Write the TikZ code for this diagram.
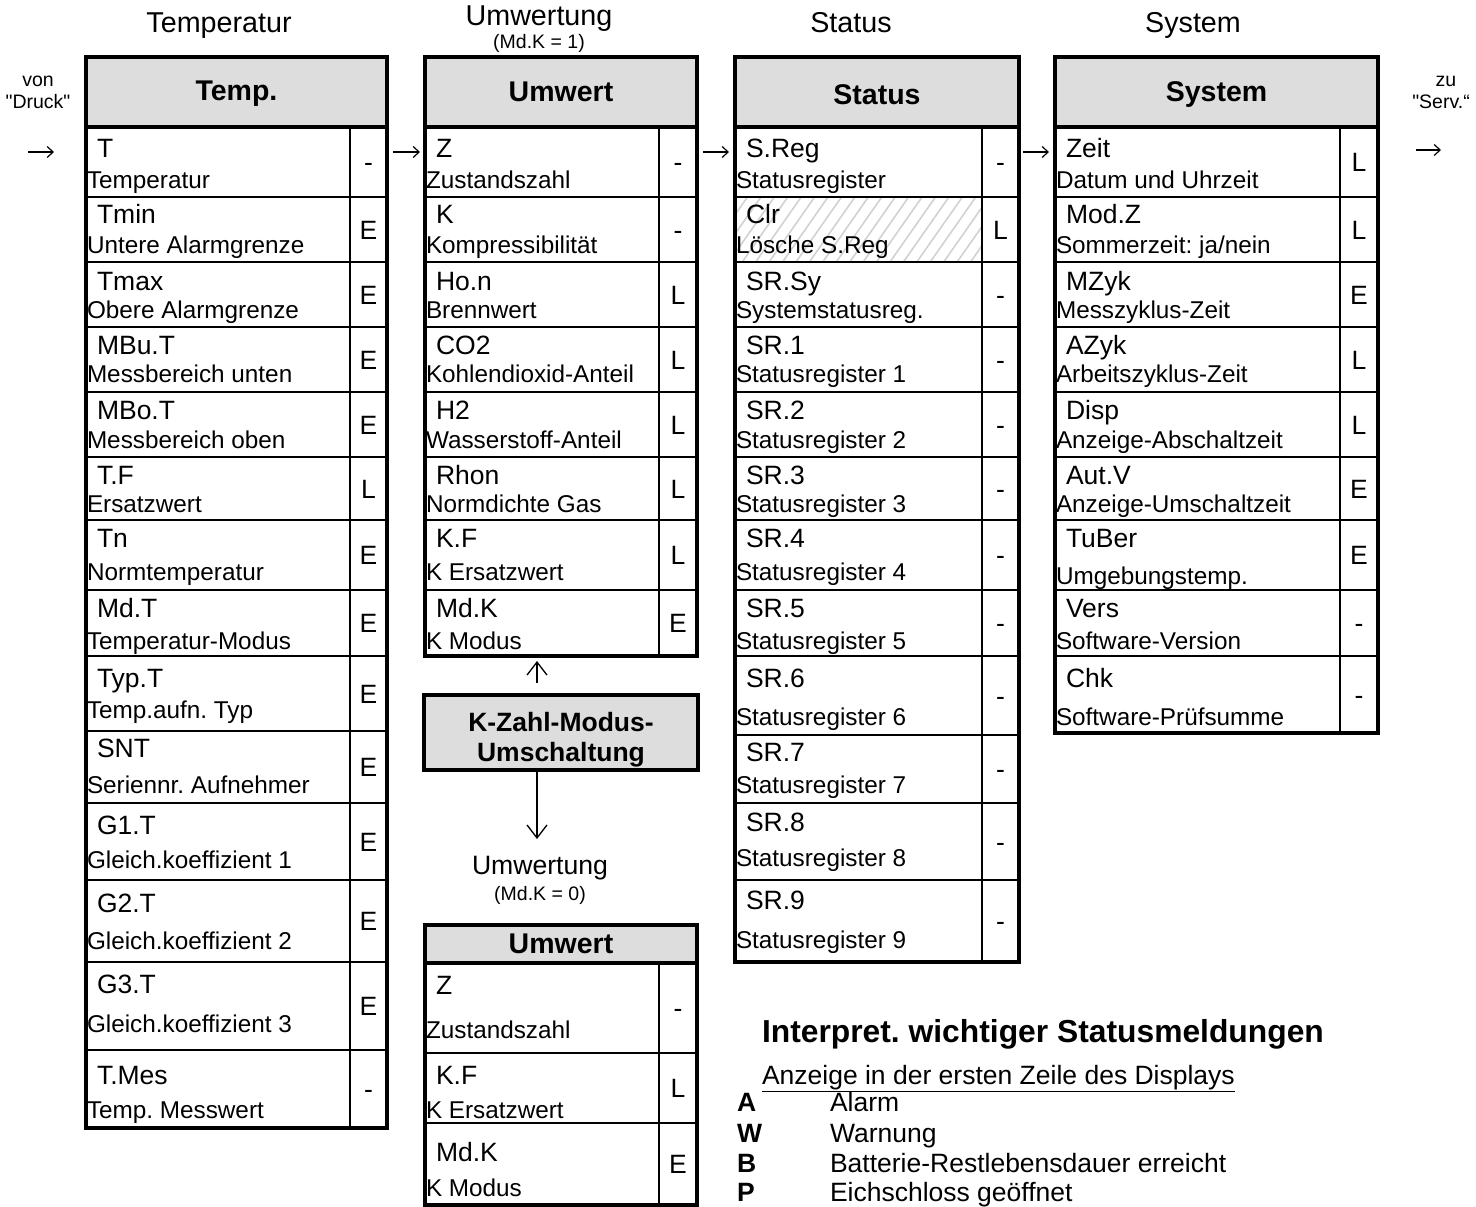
\documentclass[tikz,border=0pt]{standalone}
\usepackage{fontspec}
\setmainfont{Liberation Sans}[Ligatures=TeXOff]
\usetikzlibrary{arrows.meta,patterns.meta}
\definecolor{hd}{RGB}{221,221,221}
\newcommand\fsz[1]{\fontsize{#1}{#1}\selectfont\frenchspacing}
\newcommand\mkhead[7]{% id, x0, x1, ytop, ybot, text, text y
  \node[headbox, minimum width={(#3-#2)*1pt}, minimum height={(#5-#4)*1pt}] (#1h) at (#2,#4) {};
  \node[headtext] (#1ht) at ({(#2+#3)/2},#7) {#6};
}
\newcommand\mkrows[5]{% id, x0, xd, x1, rows
  \foreach \ya/\yb/\yt/\ys/\lt/\ls/\v [count=\i] in {#5}{
    \node[cellbox, minimum width={(#3-#2)*1pt}, minimum height={(\yb-\ya)*1pt}] (#1l\i) at (#2,\ya) {};
    \node[cellbox, minimum width={(#4-#3)*1pt}, minimum height={(\yb-\ya)*1pt}] (#1v\i) at (#3,\ya) {};
    \node[toplab] (#1t\i) at ({#2+11},\yt) {\lt};
    \node[sublab] (#1s\i) at ({#2+1},\ys) {\ls};
    \node[vallab] (#1x\i) at ({(#3+#4)/2},{(\ya+\yb)/2}) {\v};
  }
}
\begin{document}
\begin{tikzpicture}[x=1pt,y=-1pt,
  every node/.style={inner sep=0pt, outer sep=0pt},
  cellbox/.style={draw, line width=2pt, anchor=north west},
  headbox/.style={draw, line width=2pt, fill=hd, anchor=north west},
  headtext/.style={font=\fsz{28.5}\bfseries, text height=20.4pt, text depth=0pt},
  toplab/.style={anchor=west, font=\fsz{26.5}, text height=19pt, text depth=0pt},
  sublab/.style={anchor=west, font=\fsz{24.3}, text height=17.4pt, text depth=0pt},
  vallab/.style={font=\fsz{26.5}, text height=19pt, text depth=0pt},
  outerline/.style={line width=4pt},
  titletext/.style={font=\fsz{28.7}, text height=20.5pt, text depth=0pt},
  smalltext/.style={font=\fsz{19.5}, text height=14pt, text depth=0pt},
  legtext/.style={anchor=west, font=\fsz{26.5}, text height=19pt, text depth=0pt},
  flow/.style={line width=1.2pt, -{Straight Barb[length=6pt,width=11pt]}},
  vflow/.style={line width=1.3pt, -{Straight Barb[length=13pt,width=20pt]}},
]
\useasboundingbox (0,0) rectangle (1476,1207);

% titles
\node[titletext] (tT) at (219,22) {Temperatur};
\node[titletext] (tU) at (539,15) {Umwertung};
\node[smalltext] (tU2) at (539,42) {(Md.K = 1)};
\node[titletext] (tS) at (851,22) {Status};
\node[titletext] (tSy) at (1193,22) {System};
\node[smalltext] (von1) at (38,79) {von};
\node[smalltext] (von2) at (38,101) {"Druck"};
\node[smalltext] (zu1) at (1446,79) {zu};
\node[smalltext] (zu2) at (1441,101) {"Serv.“};

% hatched Clr cell
\fill[pattern={Lines[angle=55,distance=11pt,line width=1.6pt]}, pattern color=black!18] (735,197) rectangle (982,262);

% Temp table
\mkhead{T}{86}{387}{57}{127}{Temp.}{90}
\mkrows{T}{86}{350}{387}{
127/197/148/180/T/Temperatur/-,
197/262/214/245/Tmin/Untere Alarmgrenze/E,
262/327/281/310/Tmax/Obere Alarmgrenze/E,
327/392/345/374/MBu.T/Messbereich unten/E,
392/457/410/440/MBo.T/Messbereich oben/E,
457/520/475/504/T.F/Ersatzwert/L,
520/590/538/572/Tn/Normtemperatur/E,
590/656/608/641/Md.T/Temperatur-Modus/E,
656/731/678/710/Typ.T/Temp.aufn. Typ/E,
731/803/748/785/SNT/Seriennr. Aufnehmer/E,
803/880/825/860/G1.T/Gleich.koeffizient 1/E,
880/962/903/941/G2.T/Gleich.koeffizient 2/E,
962/1050/984/1024/G3.T/Gleich.koeffizient 3/E,
1050/1128/1075/1110/T.Mes/Temp. Messwert/-}
\draw[outerline] (86,127) -- (387,127);
\draw[outerline] (86,57) rectangle (387,1128);

% Umwert table (Md.K = 1)
\mkhead{U}{425}{697}{57}{127}{Umwert}{91}
\mkrows{U}{425}{659}{697}{
127/197/148/180/Z/Zustandszahl/-,
197/262/214/245/K/Kompressibilität/-,
262/327/281/310/Ho.n/Brennwert/L,
327/392/345/374/CO2/Kohlendioxid-Anteil/L,
392/457/410/440/H2/Wasserstoff-Anteil/L,
457/520/475/504/Rhon/Normdichte Gas/L,
520/590/538/572/K.F/K Ersatzwert/L,
590/656/608/641/Md.K/K Modus/E}
\draw[outerline] (425,127) -- (697,127);
\draw[outerline] (425,57) rectangle (697,656);

% Status table
\mkhead{S}{735}{1019}{57}{127}{Status}{94}
\mkrows{S}{735}{982}{1019}{
127/197/148/180/S.Reg/Statusregister/-,
197/262/214/245/Clr/Lösche S.Reg/L,
262/327/281/310/SR.Sy/Systemstatusreg./-,
327/392/345/374/SR.1/Statusregister 1/-,
392/457/410/440/SR.2/Statusregister 2/-,
457/520/475/504/SR.3/Statusregister 3/-,
520/590/538/572/SR.4/Statusregister 4/-,
590/656/608/641/SR.5/Statusregister 5/-,
656/735/678/717/SR.6/Statusregister 6/-,
735/803/752/785/SR.7/Statusregister 7/-,
803/880/822/858/SR.8/Statusregister 8/-,
880/962/900/940/SR.9/Statusregister 9/-}
\draw[outerline] (735,127) -- (1019,127);
\draw[outerline] (735,57) rectangle (1019,962);

% System table
\mkhead{Y}{1055}{1378}{57}{127}{System}{91}
\mkrows{Y}{1055}{1340}{1378}{
127/197/148/180/Zeit/Datum und Uhrzeit/L,
197/262/214/245/Mod.Z/{Sommerzeit: ja/nein}/L,
262/327/281/310/MZyk/Messzyklus-Zeit/E,
327/392/345/374/AZyk/Arbeitszyklus-Zeit/L,
392/457/410/440/Disp/Anzeige-Abschaltzeit/L,
457/520/475/504/Aut.V/Anzeige-Umschaltzeit/E,
520/590/538/576/TuBer/Umgebungstemp./E,
590/656/608/641/Vers/Software-Version/-,
656/733/678/717/Chk/Software-Prüfsumme/-}
\draw[outerline] (1055,127) -- (1378,127);
\draw[outerline] (1055,57) rectangle (1378,733);

% K-Zahl box
\node[headbox, line width=4pt, minimum width=274pt, minimum height=75pt] (kz) at (424,695) {};
\node[headtext, font=\fsz{26.5}\bfseries, text height=19pt] (kz1) at (561,722) {K-Zahl-Modus-};
\node[headtext, font=\fsz{26.5}\bfseries, text height=19pt] (kz2) at (561,752) {Umschaltung};

\node[titletext, font=\fsz{26.6}, text height=19pt] (tU3) at (540,865) {Umwertung};
\node[smalltext] (tU4) at (540,893) {(Md.K = 0)};

% lower Umwert table
\mkhead{W}{425}{697}{925}{963}{Umwert}{943}
\mkrows{W}{425}{659}{697}{
963/1053/985/1030/Z/Zustandszahl/-,
1053/1123/1075/1110/K.F/K Ersatzwert/L,
1123/1205/1152/1188/Md.K/K Modus/E}
\draw[outerline] (425,963) -- (697,963);
\draw[outerline] (425,925) rectangle (697,1205);

% flow arrows
\coordinate (a0) at (28,152); \coordinate (a1) at (54,152);
\coordinate (b0) at (393,152); \coordinate (b1) at (420,152);
\coordinate (c0) at (703,152); \coordinate (c1) at (729,152);
\coordinate (d0) at (1023,152); \coordinate (d1) at (1049,152);
\coordinate (e0) at (1416,150); \coordinate (e1) at (1441,150);
\draw[flow] (a0) -- (a1);
\draw[flow] (b0) -- (b1);
\draw[flow] (c0) -- (c1);
\draw[flow] (d0) -- (d1);
\draw[flow] (e0) -- (e1);
\coordinate (up0) at (537,683); \coordinate (up1) at (537,661);
\draw[vflow] (up0) -- (up1);
\coordinate (dn0) at (537,772); \coordinate (dn1) at (537,839);
\draw[vflow] (dn0) -- (dn1);

% legend
\node[anchor=west, font=\fsz{31.8}\bfseries, text height=22.8pt, text depth=0pt] (lg) at (762,1031) {Interpret. wichtiger Statusmeldungen};
\node[legtext] (lg0) at (762,1075) {\underline{Anzeige in der ersten Zeile des Displays}};
\node[legtext, font=\fsz{26.5}\bfseries] (lA) at (737,1102) {A};
\node[legtext] (lAt) at (830,1102) {Alarm};
\node[legtext, font=\fsz{26.5}\bfseries] (lW) at (737,1133) {W};
\node[legtext] (lWt) at (830,1133) {Warnung};
\node[legtext, font=\fsz{26.5}\bfseries] (lB) at (737,1163) {B};
\node[legtext] (lBt) at (830,1163) {Batterie-Restlebensdauer erreicht};
\node[legtext, font=\fsz{26.5}\bfseries] (lP) at (737,1192) {P};
\node[legtext] (lPt) at (830,1192) {Eichschloss geöffnet};
\end{tikzpicture}
\end{document}
